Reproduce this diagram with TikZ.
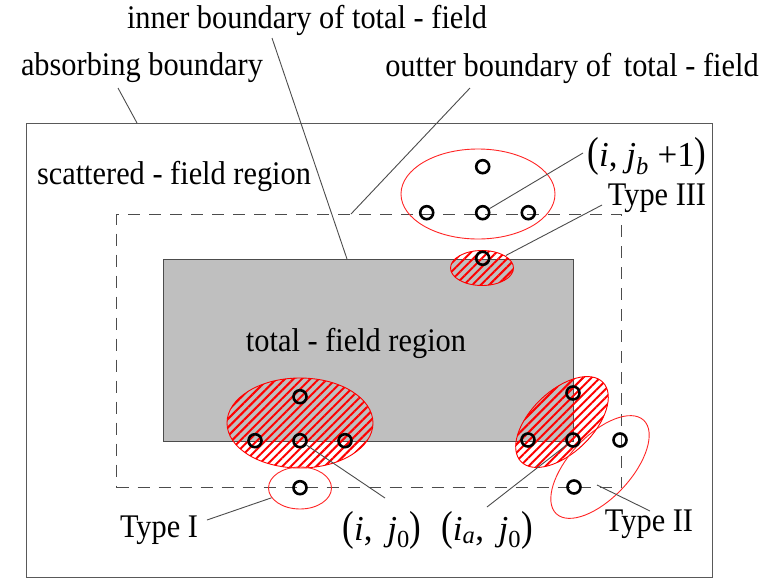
\documentclass[tikz,border=0pt]{standalone}
\usepackage{fontspec}
\usepackage{graphicx}
\setmainfont{Liberation Serif}
\usetikzlibrary{shapes.geometric,patterns.meta}
\newcommand{\cnd}[1]{\scalebox{0.92}[1]{#1}}
\begin{document}
\begin{tikzpicture}[x=1pt,y=-1pt,
  lbl/.style={font=\fontsize{33}{36}\selectfont, inner sep=0pt, text=black},
  mlbl/.style={font=\fontsize{35}{40}\selectfont, inner sep=0pt, text=black},
  leader/.style={draw=black!70, line width=0.9pt},
  pt/.style={circle, draw=black, line width=2.6pt, minimum size=13pt, inner sep=0pt},
  ring/.style={ellipse, draw=red!85!white, line width=0.9pt, inner sep=0pt},
  hatch/.style={ellipse, draw=red, line width=0.9pt, inner sep=0pt,
    pattern={Lines[angle=45,distance=6pt,line width=2pt]}, pattern color=red},
  boxline/.style={draw=black!65, line width=1.4pt}
]
\useasboundingbox (0,0) rectangle (780,579);

% regions
\node[boxline, rectangle, inner sep=0pt, minimum width=686pt, minimum height=454pt, anchor=north west] (absorb) at (26,123) {};
\node[draw=black!70, line width=1.3pt, dash pattern=on 12pt off 9pt, rectangle, inner sep=0pt, minimum width=505pt, minimum height=273pt, anchor=north west] (outerTF) at (116,214) {};
\node[draw=black!70, fill=black!25, line width=1pt, rectangle, inner sep=0pt, minimum width=410pt, minimum height=182pt, anchor=north west] (innerTF) at (163,259) {};

% hatched ellipses
\node[hatch, minimum width=63pt, minimum height=35pt] (hT) at (482,268) {};
\node[hatch, minimum width=146pt, minimum height=90pt] (hB) at (300,423) {};
\node[hatch, minimum width=114pt, minimum height=62pt, rotate=44] (hR) at (562,422) {};

% outline ellipses
\node[ring, minimum width=154pt, minimum height=90pt] (rIII) at (478,194) {};
\node[ring, minimum width=63pt, minimum height=42pt] (rI) at (300,488) {};
\node[ring, minimum width=128pt, minimum height=62pt, rotate=47] (rII) at (600,467) {};

% grid points
\node[pt] (t1) at (482.7,166.7) {};
\node[pt] (t2) at (426.7,212.7) {};
\node[pt] (t3) at (482.7,212.7) {};
\node[pt] (t4) at (528.3,212.7) {};
\node[pt] (t5) at (482.7,258.3) {};
\node[pt] (b1) at (300,396.7) {};
\node[pt] (b2) at (255,440.7) {};
\node[pt] (b3) at (300,440.7) {};
\node[pt] (b4) at (345,440.7) {};
\node[pt] (b5) at (300,487.7) {};
\node[pt] (r1) at (573,393) {};
\node[pt] (r2) at (528,440) {};
\node[pt] (r3) at (573,440) {};
\node[pt] (r4) at (620,440) {};
\node[pt] (r5) at (574,487) {};

% labels
\node[lbl] (labInner) at (307,20) {\cnd{inner boundary of total - field}};
\node[lbl] (labAbs) at (142,68) {\cnd{absorbing boundary}};
\node[lbl] (labOut) at (572,68) {\cnd{outter boundary of\, total - field}};
\node[lbl] (labScat) at (174,176) {\cnd{scattered - field region}};
\node[lbl] (labTot) at (356,343) {\cnd{total - field region}};
\node[lbl] (labI) at (159,530) {\cnd{Type I}};
\node[lbl] (labII) at (649,524) {\cnd{Type II}};
\node[lbl] (labIII) at (657,198) {\cnd{Type III}};
\node[mlbl] (labJb) at (647,156) {\scalebox{1}[1.2]{(}\textit{i}, \textit{j}\textsubscript{\textit{b}} +1\scalebox{1}[1.2]{)}};
\node[mlbl] (labIJ) at (382,530) {\scalebox{1}[1.2]{(}\textit{i}, \,\textit{j}\textsubscript{0}\scalebox{1}[1.2]{)}};
\node[mlbl] (labIaJ) at (487,530) {\scalebox{1}[1.2]{(}\textit{i}\textsubscript{\textit{a}}, \,\textit{j}\textsubscript{0}\scalebox{1}[1.2]{)}};

% leader end points
\coordinate (kAbs1) at (118,88);
\coordinate (kAbs2) at (137,123);
\coordinate (kIn1) at (272,38);
\coordinate (kIn2) at (347,259);
\coordinate (kOut1) at (470,88);
\coordinate (kOut2) at (351,214);
\coordinate (kJb) at (583,153);
\coordinate (kIII) at (602,205);
\coordinate (kI) at (207,520);
\coordinate (kIJ) at (385,498);
\coordinate (kIaJ) at (487,507);
\coordinate (kII1) at (597,485);
\coordinate (kII2) at (650,511);

% leaders
\draw[leader] (kAbs1) -- (kAbs2);
\draw[leader] (kIn1) -- (kIn2);
\draw[leader] (kOut1) -- (kOut2);
\draw[leader] (t3) -- (kJb);
\draw[leader] (hT) -- (kIII);
\draw[leader] (rI) -- (kI);
\draw[leader] (b3) -- (kIJ);
\draw[leader] (r3) -- (kIaJ);
\draw[leader] (kII1) -- (kII2);
\end{tikzpicture}
\end{document}
